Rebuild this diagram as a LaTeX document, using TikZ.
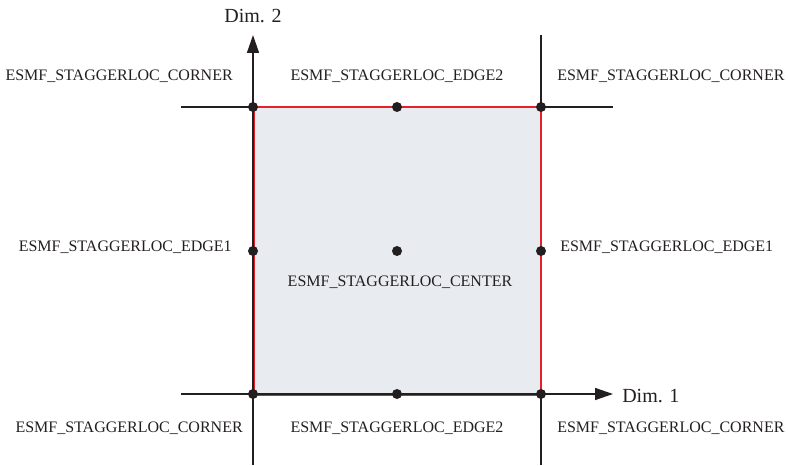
\documentclass[tikz,border=0pt]{standalone}
\usepackage{fontspec}
\setmainfont{Liberation Serif}
\usetikzlibrary{arrows.meta}
\definecolor{cellfill}{RGB}{232,236,241}
\definecolor{cellred}{RGB}{228,32,40}
\definecolor{inkgray}{RGB}{35,31,32}

\begin{document}
\begin{tikzpicture}[x=0.75pt,y=-0.75pt,
  gridstroke/.style={draw=inkgray,line width=1.1pt},
  axisstroke/.style={gridstroke,-{Triangle[length=13.5pt,width=9pt]}},
  stagdot/.style={circle,fill=inkgray,inner sep=0pt,minimum size=7.5pt},
  staglabel/.style={font=\fontsize{12}{14}\selectfont,text=inkgray,inner sep=0pt},
  dimlabel/.style={font=\fontsize{15}{18}\selectfont,text=inkgray,inner sep=0pt}]

\useasboundingbox (0,0) rectangle (788,466);

% cell
\fill[cellfill] (254,107) rectangle (541,395);

% line ends
\coordinate (topW) at (181,107);
\coordinate (topE) at (613,107);
\coordinate (rightN) at (541,35);
\coordinate (rightS) at (541,465);
\coordinate (axisO) at (253,465);
\coordinate (axisN) at (253,35);
\coordinate (botW) at (181,394);
\coordinate (botE) at (613,394);

% grid lines
\draw[gridstroke] (topW) -- (topE);
\draw[gridstroke] (rightN) -- (rightS);

% cell border
\draw[cellred,line width=1.2pt] (254.5,107) rectangle (541,395.5);

% axes
\draw[axisstroke] (axisO) -- (axisN);
\draw[axisstroke] (botW) -- (botE);
\node[dimlabel,anchor=base] (dimtwo) at (253,23) {Dim. 2};
\node[dimlabel,anchor=base west] (dimone) at (622,402) {Dim. 1};

% stagger locations
\node[stagdot] (cornerSW) at (253,394) {};
\node[stagdot] (cornerSE) at (541,394) {};
\node[stagdot] (cornerNW) at (253,107) {};
\node[stagdot] (cornerNE) at (541,107) {};
\node[stagdot] (edgeS) at (397,394) {};
\node[stagdot] (edgeN) at (397,107) {};
\node[stagdot] (edgeW) at (253,251) {};
\node[stagdot] (edgeE) at (541,251) {};
\node[stagdot] (center) at (397,251) {};

% labels
\node[staglabel,anchor=base east] (lcornerNW) at (233,81) {ESMF\_STAGGERLOC\_CORNER};
\node[staglabel,anchor=base west] (lcornerNE) at (557,81) {ESMF\_STAGGERLOC\_CORNER};
\node[staglabel,anchor=base east] (lcornerSW) at (243,432) {ESMF\_STAGGERLOC\_CORNER};
\node[staglabel,anchor=base west] (lcornerSE) at (557,432) {ESMF\_STAGGERLOC\_CORNER};
\node[staglabel,anchor=base] (ledgeN) at (397,81) {ESMF\_STAGGERLOC\_EDGE2};
\node[staglabel,anchor=base] (ledgeS) at (397,432) {ESMF\_STAGGERLOC\_EDGE2};
\node[staglabel,anchor=base east] (ledgeW) at (232,252) {ESMF\_STAGGERLOC\_EDGE1};
\node[staglabel,anchor=base west] (ledgeE) at (560,252) {ESMF\_STAGGERLOC\_EDGE1};
\node[staglabel,anchor=base] (lcenter) at (400,287) {ESMF\_STAGGERLOC\_CENTER};

\end{tikzpicture}
\end{document}
